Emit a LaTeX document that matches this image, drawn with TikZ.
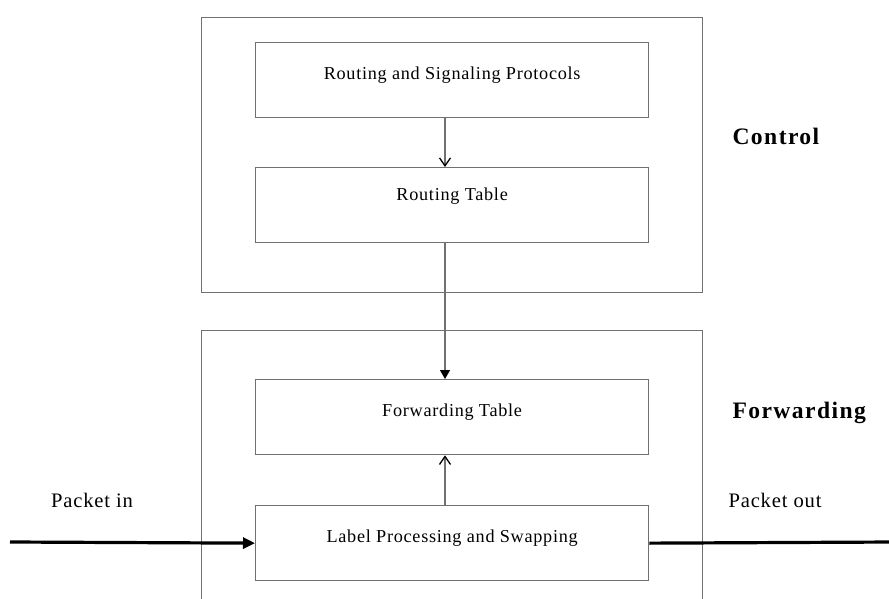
\documentclass[tikz,border=0pt]{standalone}
\usepackage{fontspec}
\setmainfont{Liberation Serif}
\usetikzlibrary{arrows.meta}
\newfontfamily\boxfont[LetterSpace=4]{Liberation Serif}
\newfontfamily\headfont[LetterSpace=6]{Liberation Serif}
\definecolor{rule}{HTML}{707070}
\tikzset{
  plane/.style={draw=rule, line width=1.3pt, rectangle, inner sep=0pt,
    minimum width=501pt, anchor=north west},
  stage/.style={draw=rule, line width=1.3pt, rectangle, inner sep=0pt,
    minimum width=393pt, minimum height=75pt, anchor=north west,
    font=\boxfont\fontsize{18.2}{20}\selectfont},
  heading/.style={font=\headfont\fontsize{23.6}{26}\bfseries\selectfont, anchor=west},
  portlabel/.style={font=\boxfont\fontsize{20.6}{23}\selectfont},
  link/.style={draw=rule, line width=1.3pt},
  openhead/.style={link, -{Straight Barb[length=8pt,width=11pt,line width=1.3pt,black]}},
  solidhead/.style={link, -{Triangle[length=9pt,width=10pt,black]}},
  wire/.style={draw=black, line width=3.2pt},
}
% raise a box caption without changing its measured size
\newcommand{\lift}[2][5pt]{\raisebox{#1}[\height][\depth]{#2}}
\begin{document}
\begin{tikzpicture}[x=1pt, y=-1pt]
  \useasboundingbox (0,0) rectangle (889,599);
  \clip (0,0) rectangle (889,599);

  % control and forwarding planes
  \node[plane, minimum height=275pt] (ctrl) at (201,17) {};
  \node[plane, minimum height=320pt] (fwd) at (201,330) {};

  % functional stages
  \node[stage] (proto) at (255,42) {\lift{Routing and Signaling Protocols}};
  \node[stage] (rtab) at (255,167) {\lift[9pt]{Routing Table}};
  \node[stage] (ftab) at (255,379) {\lift{Forwarding Table}};
  \node[stage] (swap) at (255,505) {\lift{Label Processing and Swapping}};

  % plane headings
  \node[heading] (hctrl) at (729,136) {Control};
  \node[heading] (hfwd) at (729,413) {Forwarding};

  % data flow between stages
  \draw[openhead] (proto.south -| 445,0) -- (rtab.north -| 445,0);
  \draw[solidhead] (rtab.south -| 445,0) -- (ftab.north -| 445,0);
  \draw[openhead] (swap.north -| 445,0) -- (ftab.south -| 445,0);

  % packet path
  \coordinate (src) at (10,542);
  \coordinate (dst) at (895,542);
  \draw[wire, -{Triangle[length=12pt,width=11pt]}] (src) -- (swap.west);
  \draw[wire] (swap.east) -- (dst);
  \node[portlabel] (pin) at (92,500) {Packet in};
  \node[portlabel] (pout) at (775,500) {Packet out};
\end{tikzpicture}
\end{document}
